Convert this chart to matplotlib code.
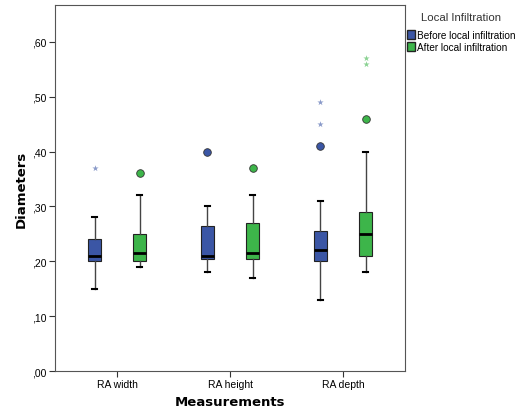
import matplotlib
matplotlib.use("Agg")
from matplotlib import pyplot as plt
from matplotlib.patches import Patch

categories = ["RA width", "RA height", "RA depth"]
groups = ["Before local infiltration", "After local infiltration"]

# five-number summaries: low whisker, q1, median, q3, high whisker
before_stats = [
    [0.15, 0.20, 0.21, 0.24, 0.28],
    [0.18, 0.205, 0.21, 0.265, 0.30],
    [0.13, 0.20, 0.22, 0.255, 0.31],
]
after_stats = [
    [0.19, 0.20, 0.215, 0.25, 0.32],
    [0.17, 0.205, 0.215, 0.27, 0.32],
    [0.18, 0.21, 0.25, 0.29, 0.40],
]
# outliers (circles) and extremes (stars)
before_outliers = [[], [0.40], [0.41]]
before_extremes = [[0.37], [], [0.45, 0.49]]
after_outliers = [[0.36], [0.37], [0.46]]
after_extremes = [[], [], [0.56, 0.57]]

blue = "#3b56a5"
green = "#3db54a"


def make_stats(rows):
    out = []
    for lo, q1, med, q3, hi in rows:
        out.append({"whislo": lo, "q1": q1, "med": med, "q3": q3, "whishi": hi, "fliers": []})
    return out


fig = plt.figure(figsize=(5.16, 4.14), dpi=100)
ax = fig.add_axes([0.1066, 0.1014, 0.6784, 0.8841])

centers = list(range(len(categories)))
offset = 0.2
for stats, outl, extr, color, shift in [
    (before_stats, before_outliers, before_extremes, blue, -offset),
    (after_stats, after_outliers, after_extremes, green, offset),
]:
    pos = [c + shift for c in centers]
    ax.bxp(make_stats(stats), positions=pos, widths=0.11, patch_artist=True,
           showfliers=False,
           boxprops=dict(facecolor=color, edgecolor="#222222", linewidth=0.8),
           medianprops=dict(color="black", linewidth=2),
           whiskerprops=dict(color="#444444", linewidth=1),
           capprops=dict(color="black", linewidth=1.5),
           capwidths=0.045)
    for p, vals in zip(pos, outl):
        ax.scatter([p] * len(vals), vals, s=30, color=color, edgecolors="#333333",
                   linewidths=0.6, zorder=3)
    for p, vals in zip(pos, extr):
        ax.scatter([p] * len(vals), vals, s=22, marker="*", color=color, alpha=0.6,
                   linewidths=0, zorder=3)

ax.set_xlim(-0.55, 2.55)
ax.set_ylim(0, 0.667)
ax.set_xticks(centers)
ax.set_xticklabels(categories, fontsize=7.5, family="Liberation Sans")
yt = [0, 0.1, 0.2, 0.3, 0.4, 0.5, 0.6]
ax.set_yticks(yt)
ax.set_yticklabels([",%02d" % round(v * 100) for v in yt], fontsize=7.5, family="Liberation Sans")
ax.tick_params(length=4, width=0.8, color="#333333", pad=2)
for s in ax.spines.values():
    s.set_color("#555555")
    s.set_linewidth(0.8)

ax.set_xlabel("Measurements", fontsize=9.5, fontweight="bold", labelpad=4)
ax.set_ylabel("Diameters", fontsize=9.5, fontweight="bold", labelpad=3)

handles = [Patch(facecolor=blue, edgecolor="#222222", label=groups[0]),
           Patch(facecolor=green, edgecolor="#222222", label=groups[1])]
leg = fig.legend(handles=handles, title="Local Infiltration", loc="upper left",
                 bbox_to_anchor=(0.786, 0.972), frameon=False, fontsize=7.2,
                 title_fontsize=8.2, handlelength=0.85, handleheight=0.9,
                 handletextpad=0.15, labelspacing=0.2, borderaxespad=0,
                 borderpad=0.1)
plt.setp(leg.get_texts(), family="Liberation Sans")
leg.get_title().set_family("Liberation Sans")
leg.get_title().set_color("#333333")
leg._legend_box.sep = 6

fig.savefig("out.png", dpi=100)
